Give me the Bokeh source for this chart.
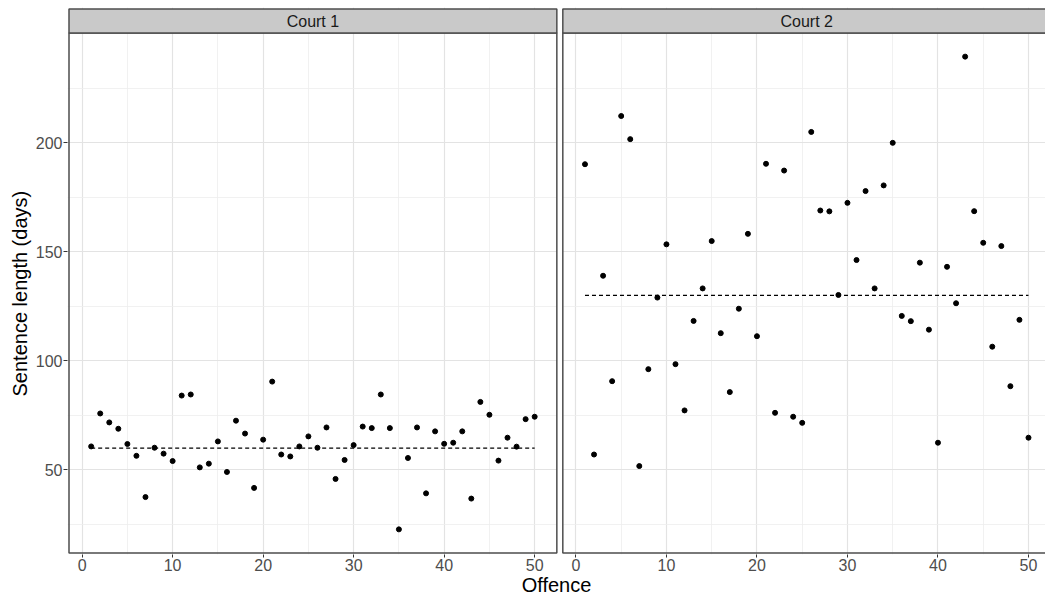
from bokeh.plotting import figure
from bokeh.models import Range1d, FixedTicker, CustomJSTickFormatter, Title
from bokeh.core.properties import value
from bokeh.embed import file_html
from bokeh.resources import INLINE

# ---------------- data ----------------
offence = list(range(1, 51))
court1 = [60.8, 75.9, 71.8, 68.9, 61.9, 56.5, 37.6, 60.2, 57.5, 54.1,
          84.1, 84.6, 51.2, 52.9, 63.1, 49.1, 72.6, 66.7, 41.8, 63.9,
          90.5, 57.1, 56.2, 60.8, 65.4, 60.2, 69.5, 45.9, 54.6, 61.4,
          69.9, 69.2, 84.6, 69.2, 22.8, 55.5, 69.5, 39.3, 67.7, 62.0,
          62.5, 67.7, 36.9, 81.2, 75.3, 54.3, 64.8, 60.7, 73.3, 74.4]
court2 = [190.1, 57.1, 139.0, 90.7, 212.2, 201.6, 51.8, 96.2, 129.0, 153.4,
          98.5, 77.3, 118.3, 133.2, 154.9, 112.7, 85.7, 123.9, 158.2, 111.3,
          190.3, 76.2, 187.2, 74.4, 71.6, 204.9, 168.9, 168.5, 130.2, 172.4,
          146.2, 177.8, 133.2, 180.4, 199.9, 120.6, 118.2, 145.0, 114.3, 62.5,
          143.1, 126.4, 239.4, 168.6, 154.1, 106.5, 152.6, 88.4, 118.8, 64.8]
court_names = ["Court 1", "Court 2"]
court_means = [60, 130]
x_ticks = [0, 10, 20, 30, 40, 50]
x_minor = [5, 15, 25, 35, 45]
y_ticks = [50, 100, 150, 200]
y_minor = [25, 75, 125, 175, 225]

# ---------------- layout ----------------
FONT = "Liberation Sans"
W, H = 1045, 598
BL, BR, BT, BB = 67, 0, 7, 44
FW, FH = W - BL - BR, H - BT - BB
STRIP = 24      # strip height (px)
PAD = 1.5       # px so that borders are not clipped
SHIFT = 54.56   # data offset of second panel
CROP = 1.88     # reference image is cropped just right of panel 2
YTITLE_OFFSET = 158  # px from frame bottom to start of y title (centres it on panels)

xmin, xmax = min(offence), max(offence)
xe = 0.05 * (xmax - xmin)
pl, pr = xmin - xe, xmax + xe
allv = court1 + court2
ymin, ymax = min(allv), max(allv)
ye = 0.05 * (ymax - ymin)
lo, hi = ymin - ye, ymax + ye
u = (hi - lo) / (FH - STRIP - 2 * PAD)
y0 = lo - PAD * u
strip_top = hi + STRIP * u
y1 = strip_top + PAD * u
x_end = SHIFT + xmax + CROP
x0 = (pl - PAD * x_end / FW) / (1 - PAD / FW)

p = figure(width=W, height=H, x_range=Range1d(x0, x_end), y_range=Range1d(y0, y1),
           output_backend="svg", toolbar_location=None,
           min_border_left=BL, min_border_right=BR, min_border_top=BT, min_border_bottom=BB,
           outline_line_color=None, background_fill_color="white", border_fill_color="white")

xt = FixedTicker(ticks=x_ticks + [t + SHIFT for t in x_ticks],
                 minor_ticks=x_minor + [t + SHIFT for t in x_minor])
yt = FixedTicker(ticks=y_ticks, minor_ticks=y_minor)
p.xaxis.ticker = xt
p.xgrid.ticker = xt
p.yaxis.ticker = yt
p.ygrid.ticker = yt
p.xaxis.formatter = CustomJSTickFormatter(
    code=f"return (tick > {SHIFT - 2} ? tick - {SHIFT} : tick).toFixed(0);")

for g in (p.xgrid, p.ygrid):
    g.grid_line_color = "#E3E3E3"
    g.grid_line_width = 1.2
    g.minor_grid_line_color = "#EEEEEE"
    g.minor_grid_line_width = 0.8

for ax in (p.xaxis, p.yaxis):
    ax.axis_line_color = None
    ax.minor_tick_line_color = None
    ax.major_tick_in = 0
    ax.major_tick_out = 4
    ax.major_tick_line_color = "#333333"
    ax.major_tick_line_width = 1
    ax.major_label_text_font = FONT
    ax.major_label_text_font_size = "16px"
    ax.major_label_text_color = "#4D4D4D"
    ax.major_label_standoff = 1
p.xaxis.major_tick_out = 3
p.xaxis.major_label_standoff = 0

p.xaxis.axis_label = "Offence"
p.xaxis.axis_label_text_font = FONT
p.xaxis.axis_label_text_font_size = "20px"
p.xaxis.axis_label_text_font_style = "normal"
p.xaxis.axis_label_text_color = "black"
p.xaxis.axis_label_standoff = 0

# y axis title, centred on the panels (not on the strip)
p.add_layout(Title(text="Sentence length (days)", align="left", offset=YTITLE_OFFSET,
                   standoff=3, text_font=FONT, text_font_size="20px",
                   text_font_style="normal", text_color="black"), "left")

# gap between panels
p.quad(left=[pr], right=[pl + SHIFT], bottom=[y0], top=[y1],
       fill_color="white", line_color=None)

# points
p.scatter(offence, court1, size=5, color="black")
p.scatter([o + SHIFT for o in offence], court2, size=5, color="black")

# mean lines
p.line([xmin, xmax], [court_means[0]] * 2, line_dash="4 3", line_width=1.3, color="black")
p.line([xmin + SHIFT, xmax + SHIFT], [court_means[1]] * 2, line_dash="4 3",
       line_width=1.3, color="black")

# panel borders
p.quad(left=[pl, pl + SHIFT], right=[pr, pr + SHIFT], bottom=[lo] * 2, top=[hi] * 2,
       fill_color=None, line_color="#4D4D4D", line_width=1.5)
# strips
p.quad(left=[pl, pl + SHIFT], right=[pr, pr + SHIFT], bottom=[hi] * 2, top=[strip_top] * 2,
       fill_color="#C9C9C9", line_color="#4D4D4D", line_width=1.5)
p.text(x=[(xmin + xmax) / 2, (xmin + xmax) / 2 + SHIFT], y=[(hi + strip_top) / 2] * 2,
       text=court_names, text_align="center", text_baseline="middle",
       text_font=value(FONT), text_font_size="16px", text_color="#1A1A1A")

open("out.html", "w").write(file_html(p, INLINE))
